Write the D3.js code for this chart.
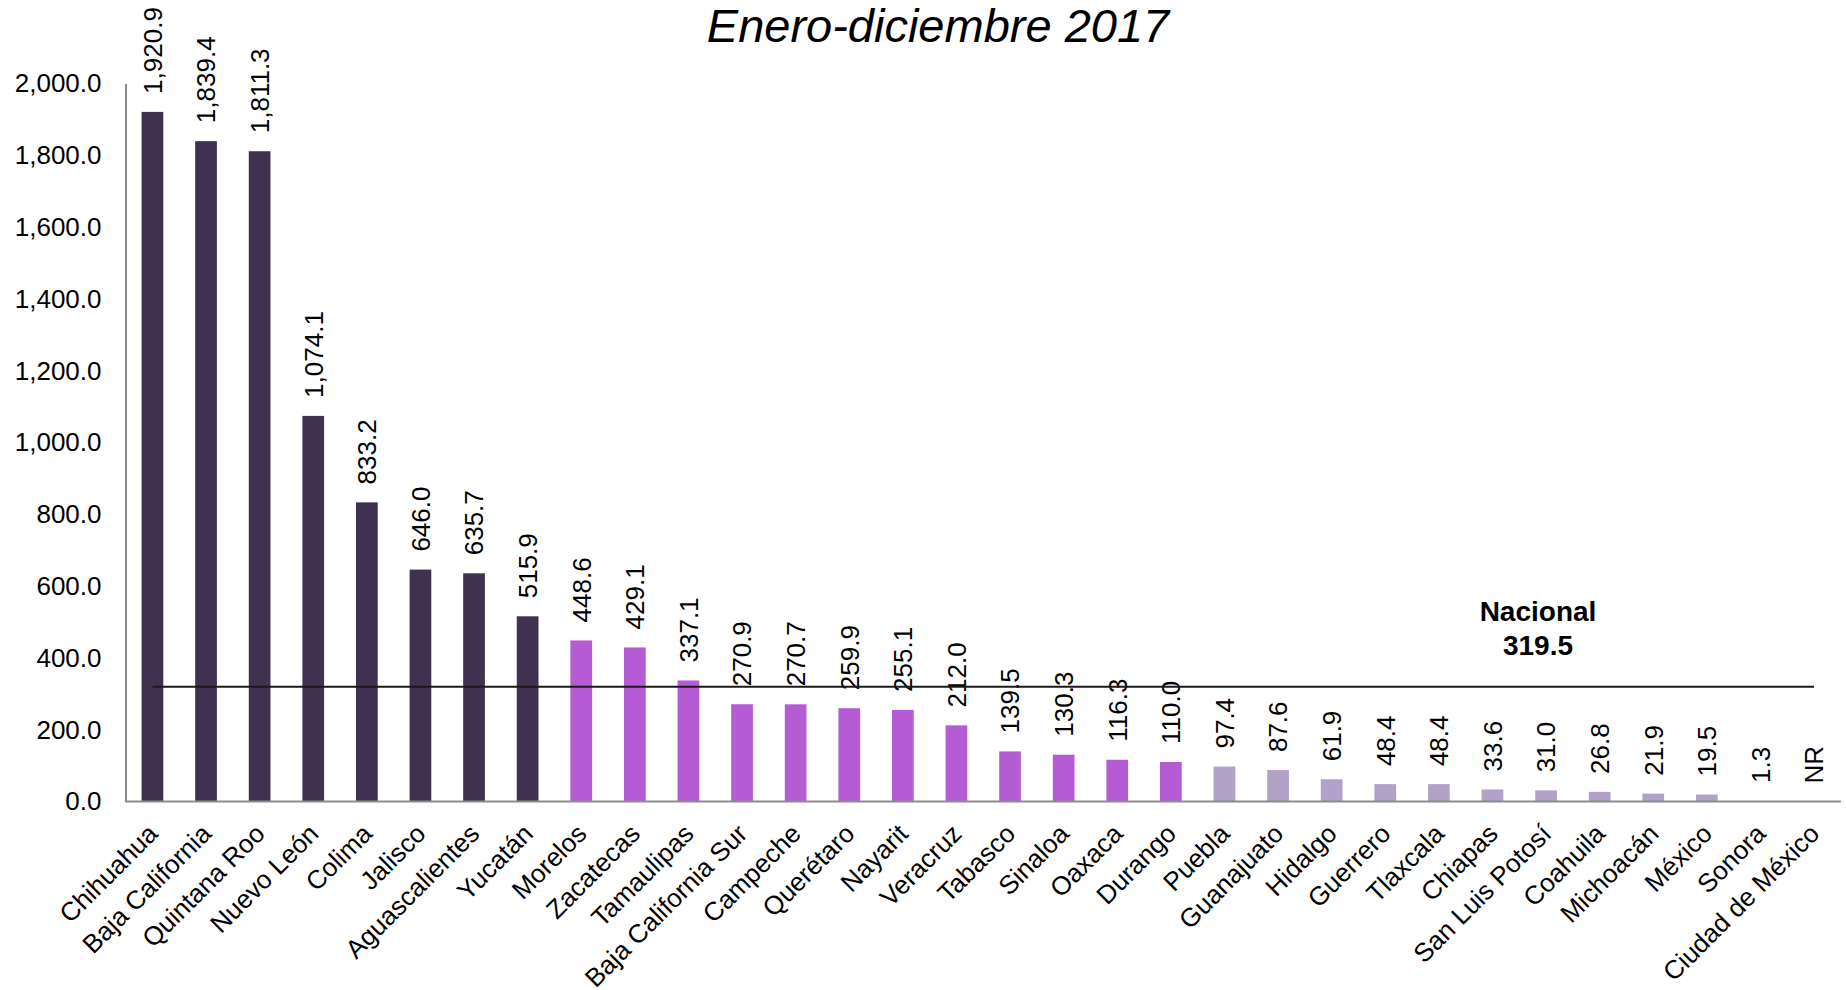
<!DOCTYPE html>
<html lang="es">
<head>
<meta charset="utf-8">
<title>Enero-diciembre 2017</title>
<script src="https://cdn.jsdelivr.net/npm/d3@7"></script>
<style>
  html, body { margin: 0; padding: 0; background: #fff; }
  svg { display: block; font-family: "Liberation Sans", Arial, sans-serif; }
</style>
</head>
<body>
<svg id="chart" width="1846" height="990"></svg>
<script>
// Entidades federativas, ordenadas de mayor a menor
const estados = [
  "Chihuahua", "Baja California", "Quintana Roo", "Nuevo León", "Colima",
  "Jalisco", "Aguascalientes", "Yucatán", "Morelos", "Zacatecas",
  "Tamaulipas", "Baja California Sur", "Campeche", "Querétaro", "Nayarit",
  "Veracruz", "Tabasco", "Sinaloa", "Oaxaca", "Durango",
  "Puebla", "Guanajuato", "Hidalgo", "Guerrero", "Tlaxcala",
  "Chiapas", "San Luis Potosí", "Coahuila", "Michoacán", "México",
  "Sonora", "Ciudad de México"
];

// Valor por entidad (null = no reportado)
const valores = [
  1920.9, 1839.4, 1811.3, 1074.1, 833.2,
  646.0, 635.7, 515.9, 448.6, 429.1,
  337.1, 270.9, 270.7, 259.9, 255.1,
  212.0, 139.5, 130.3, 116.3, 110.0,
  97.4, 87.6, 61.9, 48.4, 48.4,
  33.6, 31.0, 26.8, 21.9, 19.5,
  1.3, null
];

// Grupo de cada entidad (0 = alto, 1 = medio, 2 = bajo)
const grupos = [
  0, 0, 0, 0, 0, 0, 0, 0,
  1, 1, 1, 1, 1, 1, 1, 1, 1, 1, 1, 1,
  2, 2, 2, 2, 2, 2, 2, 2, 2, 2, 2, 2
];

const yTicks = [0, 200, 400, 600, 800, 1000, 1200, 1400, 1600, 1800, 2000];
const nacional = 319.5;
const titulo = "Enero-diciembre 2017";
const etiquetaNR = "NR";

const colores = ["#403151", "#b55bd4", "#b3a2c7"];

const datos = estados.map((e, i) => ({ estado: e, valor: valores[i], grupo: grupos[i] }));

const svg = d3.select("#chart");
const m = { left: 125.5, right: 1841, top: 83.5, bottom: 801.5 };

const x = d3.scaleBand()
  .domain(estados)
  .range([m.left, m.right])
  .paddingInner(0.595)
  .paddingOuter(0.3);

const y = d3.scaleLinear()
  .domain([0, 2000])
  .range([m.bottom, m.top]);

const fmt = d3.format(",.1f");

// Título
svg.append("text")
  .attr("x", 938)
  .attr("y", 42)
  .attr("text-anchor", "middle")
  .style("font-size", "47px")
  .style("font-style", "italic")
  .attr("fill", "#000")
  .text(titulo);

// Eje Y
const yAxis = svg.append("g")
  .attr("transform", `translate(${m.left},0)`)
  .call(d3.axisLeft(y).tickValues(yTicks).tickSize(0).tickPadding(24).tickFormat(fmt));
yAxis.select(".domain").attr("stroke", "#8c8c8c").attr("stroke-width", 2);
yAxis.selectAll("text")
  .style("font-size", "26px")
  .style("font-family", "'Liberation Sans', Arial, sans-serif")
  .attr("fill", "#000");

// Barras
svg.append("g").selectAll("rect")
  .data(datos.filter(d => d.valor !== null))
  .join("rect")
  .attr("x", d => x(d.estado))
  .attr("width", x.bandwidth())
  .attr("y", d => y(d.valor))
  .attr("height", d => y(0) - y(d.valor))
  .attr("fill", d => colores[d.grupo]);

// Eje X
svg.append("line")
  .attr("x1", m.left).attr("x2", m.right)
  .attr("y1", m.bottom).attr("y2", m.bottom)
  .attr("stroke", "#8c8c8c").attr("stroke-width", 2);

// Etiquetas de categoría
svg.append("g").selectAll("text")
  .data(datos)
  .join("text")
  .attr("transform", d => `translate(${x(d.estado) + x.bandwidth() / 2 - 6},${m.bottom + 21}) rotate(-45)`)
  .attr("text-anchor", "end")
  .attr("dy", "0.7em")
  .style("font-size", "26px")
  .attr("fill", "#000")
  .text(d => d.estado);

// Etiquetas de valor
svg.append("g").selectAll("text")
  .data(datos)
  .join("text")
  .attr("transform", d => {
    const v = d.valor === null ? 0 : d.valor;
    return `translate(${x(d.estado) + x.bandwidth() / 2},${y(v) - 18}) rotate(-90)`;
  })
  .attr("text-anchor", "start")
  .attr("dy", "0.36em")
  .style("font-size", "26px")
  .attr("fill", "#000")
  .text(d => d.valor === null ? etiquetaNR : fmt(d.valor));

// Línea del promedio nacional
const x0 = x(estados[0]) + x.bandwidth() / 2;
const x1 = x(estados[estados.length - 1]) + x.bandwidth() / 2;
svg.append("line")
  .attr("x1", x0).attr("x2", x1)
  .attr("y1", y(nacional)).attr("y2", y(nacional))
  .attr("stroke", "#1a1a1a").attr("stroke-width", 2);

const lbl = svg.append("text")
  .attr("x", 1538)
  .attr("y", y(nacional) - 66)
  .attr("text-anchor", "middle")
  .style("font-size", "28px")
  .style("font-weight", "bold")
  .attr("fill", "#000");
lbl.append("tspan").attr("x", 1538).text("Nacional");
lbl.append("tspan").attr("x", 1538).attr("dy", 34).text(d3.format(".1f")(nacional));
</script>
</body>
</html>
